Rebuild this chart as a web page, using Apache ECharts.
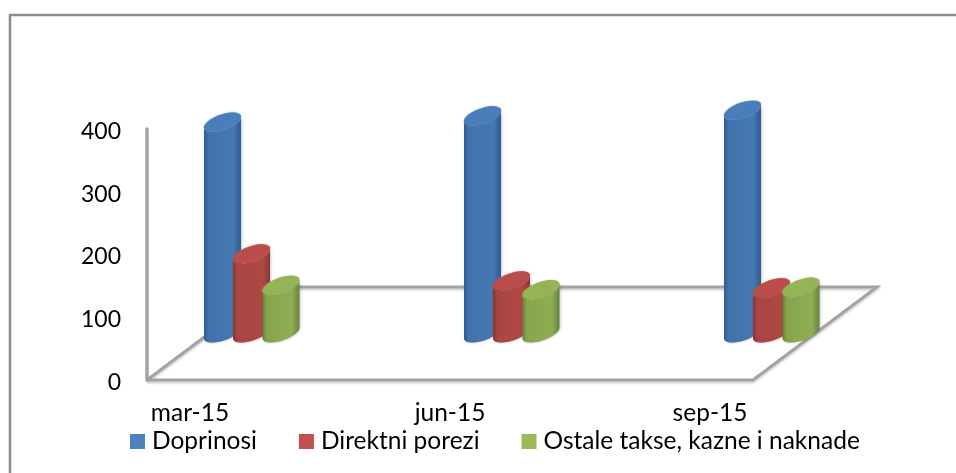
<!DOCTYPE html>
<html><head><meta charset="utf-8">
<style>html,body{margin:0;padding:0;background:#fff}#c{width:956px;height:473px}</style>
<script src="https://cdn.jsdelivr.net/npm/echarts@6/dist/echarts.min.js"></script>
</head><body><div id="c"></div>
<script>
const categories = ['mar-15', 'jun-15', 'sep-15'];
const doprinosi = [336, 346, 355];
const direktniPorezi = [126, 83, 72];
const ostaleTakse = [76, 69, 73];
const yTicks = [0, 100, 200, 300, 400];

const FONT = 'Lato';
const R = 18.5, SLOPE = 0.29, MINOR = 8, DEPTH = 47;
function ellipsePts(cx, cy, from, to) {
  const pts = [];
  for (let i = 0; i <= 36; i++) {
    const t = from + (to - from) * i / 36;
    pts.push([cx + R * Math.cos(t), cy - SLOPE * R * Math.cos(t) + MINOR * Math.sin(t)]);
  }
  return pts;
}
function cylinder(dx, dark, mid, light, top) {
  return function (params, api) {
    const base = api.coord([api.value(0), 0]);
    const head = api.coord([api.value(0), api.value(1)]);
    const cx = base[0] + dx, by = base[1] - DEPTH, ty = head[1] - DEPTH;
    const body = ellipsePts(cx, by, Math.PI, 0).concat(ellipsePts(cx, ty, 0, Math.PI));
    return {
      type: 'group',
      children: [
        { type: 'polygon', shape: { points: body },
          style: { fill: new echarts.graphic.LinearGradient(0, 0, 1, 0, [
            { offset: 0, color: dark }, { offset: 0.12, color: mid },
            { offset: 0.8, color: light }, { offset: 1, color: dark }]),
            shadowBlur: 3, shadowColor: 'rgba(0,0,0,0.22)', shadowOffsetX: 1 } },
        { type: 'polygon', shape: { points: ellipsePts(cx, ty, 0, Math.PI * 2) },
          style: { fill: top, shadowBlur: 1.5, shadowColor: top } }
      ]
    };
  };
}
function floorItem(params, api) {
  const o = api.coord([0, 0]);
  const left = 147, right = 753, y = o[1], bx = 124, by = 93;
  const line = (pts) => ({ type: 'polyline', shape: { points: pts },
    style: { fill: 'none', stroke: '#a3a3a3', lineWidth: 3,
      shadowBlur: 2, shadowOffsetY: 2, shadowColor: 'rgba(0,0,0,0.18)' } });
  return { type: 'group', children: [
    line([[left, y], [right, y], [right + bx, y - by], [left + bx, y - by], [left, y]])
  ]};
}
const colors = ['#4f81bd', '#c0504d', '#9bbb59'];
const option = {
  animation: false,
  backgroundColor: '#fff',
  textStyle: { fontFamily: FONT },
  graphic: [{ type: 'polyline', z: -1, silent: true,
    shape: { points: [[10, 480], [10, 15], [960, 15]] },
    style: { fill: 'none', stroke: '#8c8c8c', lineWidth: 2.5 } }],
  grid: { left: 60, width: 780, top: 129, height: 251 },
  legend: {
    left: 130, top: 429, padding: 0, itemWidth: 15, itemHeight: 15, itemGap: 42,
    icon: 'rect', textStyle: { fontFamily: FONT, fontSize: 24.5, color: '#000', padding: [0, 0, 0, 2] },
    data: ['Doprinosi', 'Direktni porezi', 'Ostale takse, kazne i naknade']
  },
  xAxis: { type: 'category', data: categories,
    axisLine: { show: false }, axisTick: { show: false }, splitLine: { show: false },
    axisLabel: { fontFamily: FONT, fontSize: 24.5, color: '#000', margin: 21 } },
  yAxis: { type: 'value', min: 0, max: 400, interval: 100, offset: -87,
    axisLine: { show: true, lineStyle: { color: '#a3a3a3', width: 3.5 } },
    axisTick: { show: false }, splitLine: { show: false },
    axisLabel: { fontFamily: FONT, fontSize: 23, color: '#000', margin: 26,
      verticalAlign: 'top', lineHeight: 5,
      formatter: v => yTicks.includes(v) ? String(v) : '' } },
  series: [
    { type: 'custom', name: 'floor', silent: true, z: 1, renderItem: floorItem, data: [[0, 0]],
      encode: { x: 0, y: 1 } },
    { type: 'custom', name: 'Doprinosi', z: 2, itemStyle: { color: colors[0] },
      renderItem: cylinder(32.5, '#2f5a8c', '#4073ab', '#4678b2', '#4a7ebb'),
      data: doprinosi.map((v, i) => [i, v]), encode: { x: 0, y: 1 } },
    { type: 'custom', name: 'Direktni porezi', z: 3, itemStyle: { color: colors[1] },
      renderItem: cylinder(61.5, '#853634', '#a84542', '#b04845', '#ba4d4a'),
      data: direktniPorezi.map((v, i) => [i, v]), encode: { x: 0, y: 1 } },
    { type: 'custom', name: 'Ostale takse, kazne i naknade', z: 4, itemStyle: { color: colors[2] },
      renderItem: cylinder(91, '#66813c', '#87a54d', '#8fad52', '#95b455'),
      data: ostaleTakse.map((v, i) => [i, v]), encode: { x: 0, y: 1 } }
  ]
};
echarts.init(document.getElementById('c'), null, { renderer: 'canvas' }).setOption(option);
</script></body></html>
